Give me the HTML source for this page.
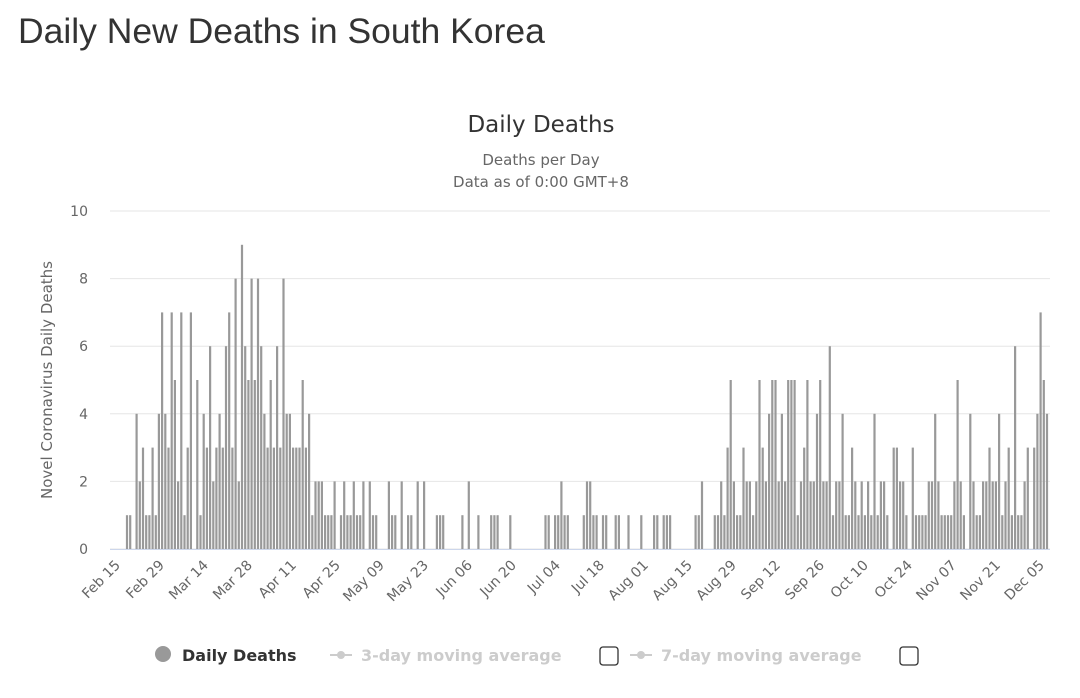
<!DOCTYPE html>
<html><head><meta charset="utf-8"><style>
body{margin:0;background:#fff;width:1080px;height:698px;overflow:hidden;font-family:"Liberation Sans",sans-serif}
h1{position:absolute;left:18px;top:11px;margin:0;font-weight:normal;font-size:35.5px;color:#333}
</style></head><body>
<h1>Daily New Deaths in South Korea</h1>
<svg id="c" width="1080" height="698" style="position:absolute;left:0;top:0" font-family="DejaVu Sans, sans-serif">
<text x="541" y="132" text-anchor="middle" font-size="23" fill="#333">Daily Deaths</text>
<text x="541" y="165" text-anchor="middle" font-size="15" fill="#666">Deaths per Day</text>
<text x="541" y="187" text-anchor="middle" font-size="15" fill="#666">Data as of 0:00 GMT+8</text>
<text transform="translate(52,380) rotate(-90)" text-anchor="middle" font-size="15" fill="#666">Novel Coronavirus Daily Deaths</text>
<g id="g"></g>
<circle cx="163" cy="654" r="8" fill="#999"/>
<text x="182" y="661" font-size="16" font-weight="bold" fill="#333">Daily Deaths</text>
<line x1="330" y1="655" x2="352" y2="655" stroke="#ccc" stroke-width="2"/><circle cx="341" cy="655" r="4" fill="#ccc"/>
<text x="361" y="661" font-size="16" font-weight="bold" fill="#ccc">3-day moving average</text>
<rect x="600" y="647" width="18" height="18" rx="3" fill="#fff" stroke="#333" stroke-width="1.3"/>
<line x1="630" y1="655" x2="652" y2="655" stroke="#ccc" stroke-width="2"/><circle cx="641" cy="655" r="4" fill="#ccc"/>
<text x="661" y="661" font-size="16" font-weight="bold" fill="#ccc">7-day moving average</text>
<rect x="900" y="647" width="18" height="18" rx="3" fill="#fff" stroke="#333" stroke-width="1.3"/>
</svg>
<script>
var d=[0,0,1,1,0,4,2,3,1,1,3,1,4,7,4,3,7,5,2,7,1,3,7,0,5,1,4,3,6,2,3,4,3,6,7,3,8,2,9,6,5,8,5,8,6,4,3,5,3,6,3,8,4,4,3,3,3,5,3,4,1,2,2,2,1,1,
1,2,0,1,2,1,1,2,1,1,2,0,2,1,1,0,0,0,
2,1,1,0,2,0,1,1,0,2,0,2,0,0,0,1,1,1,0,0,0,0,0,1,0,2,0,0,1,0,0,0,1,1,1,0,0,0,1,0,0,0,0,0,0,0,0,0,0,1,1,0,1,1,2,1,1,0,0,0,0,1,2,2,1,1,0,1,1,0,0,1,1,0,0,1,0,0,0,1,0,0,0,1,1,0,1,1,1,0,0,0,0,0,0,0,1,1,2,0,0,0,
1,1,2,1,3,5,2,1,1,3,2,2,1,2,5,3,2,4,5,5,2,4,2,5,5,5,1,2,3,5,2,2,4,5,2,2,6,1,2,2,4,1,1,3,2,1,2,1,2,1,4,1,2,2,1,0,3,3,2,2,1,0,3,1,1,1,1,2,2,4,2,1,1,1,1,2,5,2,1,0,4,2,1,1,2,2,3,2,2,4,1,2,3,1,6,1,1,2,3,0,3,4,7,5,4];
var s='',i;
for(i=0;i<=5;i++){var y=549-i*67.6;s+='<line x1="110" x2="1050" y1="'+y+'" y2="'+y+'" stroke="#e6e6e6"/><text x="88" y="'+(y+5)+'" text-anchor="end" font-size="14" fill="#666">'+(i*2)+'</text>';}
var p=920/(d.length-3);
for(i=0;i<d.length;i++){if(!d[i])continue;var x=127+(i-2)*p,h=d[i]*33.8;s+='<rect x="'+(x-1.1).toFixed(1)+'" y="'+(549-h)+'" width="2.2" height="'+h+'" fill="#999"/>';}
s+='<line x1="110" x2="1050" y1="549.5" y2="549.5" stroke="#ccd6eb"/>';
var L=["Feb 15","Feb 29","Mar 14","Mar 28","Apr 11","Apr 25","May 09","May 23","Jun 06","Jun 20","Jul 04","Jul 18","Aug 01","Aug 15","Aug 29","Sep 12","Sep 26","Oct 10","Oct 24","Nov 07","Nov 21","Dec 05"];
for(i=0;i<L.length;i++){var x=121+i*44;s+='<text transform="translate('+x+',566) rotate(-45)" text-anchor="end" font-size="14" fill="#666">'+L[i]+'</text>';}
document.getElementById('g').innerHTML=s;
</script>
</body></html>
